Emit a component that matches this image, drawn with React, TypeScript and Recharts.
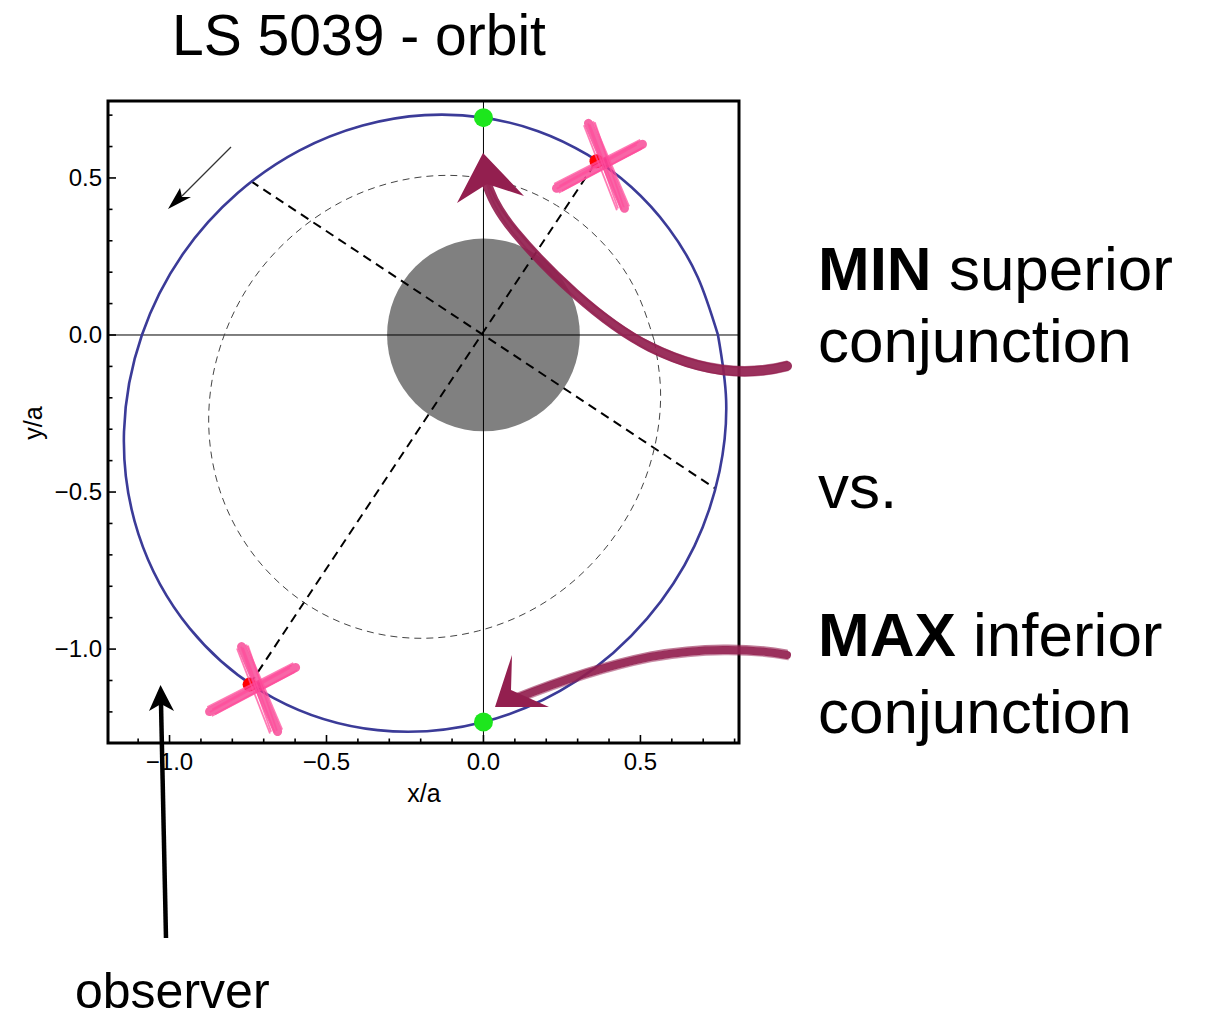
import { ComposedChart, Line, Scatter, XAxis, YAxis, ReferenceLine, ReferenceArea } from 'recharts'

const CHART_W = 1212
const CHART_H = 1019
const PLOT = { left: 108, top: 101, right: 739, bottom: 743 }
const AXIS_BOTTOM_H = 40
const AXIS_LEFT_W = 60
const AXIS_TOP_H = 10
const AXIS_RIGHT_W = 10
const X_DOMAIN: [number, number] = [-1.196, 0.814]
const Y_DOMAIN: [number, number] = [-1.299, 0.745]
const PX_PER_UNIT = (PLOT.right - PLOT.left) / (X_DOMAIN[1] - X_DOMAIN[0])
const FONT = '"Liberation Sans", Arial, Helvetica, sans-serif'

// orbit of the compact object (x/a, y/a)
const orbit: [number, number][] = [
  [0.747, 0], [0.683, 0.183], [0.59, 0.34], [0.471, 0.471], [0.331, 0.574], [0.174, 0.649],
  [0, 0.692], [-0.187, 0.7], [-0.385, 0.667], [-0.587, 0.587], [-0.783, 0.452], [-0.958, 0.257],
  [-1.088, 0], [-1.145, -0.307], [-1.099, -0.634], [-0.935, -0.935], [-0.668, -1.156], [-0.337, -1.258],
  [0, -1.232], [0.295, -1.102], [0.521, -0.903], [0.672, -0.672], [0.752, -0.434], [0.773, -0.207],
  [0.747, 0],
]

// thin dashed inner curve
const innerOrbit: [number, number][] = [
  [0.544, -0.018], [0.496, 0.119], [0.427, 0.237], [0.337, 0.335], [0.232, 0.413], [0.115, 0.469],
  [-0.016, 0.501], [-0.156, 0.507], [-0.305, 0.482], [-0.456, 0.422], [-0.603, 0.321], [-0.735, 0.175],
  [-0.832, -0.018], [-0.875, -0.248], [-0.84, -0.494], [-0.717, -0.719], [-0.517, -0.885], [-0.269, -0.962],
  [-0.016, -0.942], [0.205, -0.845], [0.375, -0.695], [0.488, -0.522], [0.548, -0.344], [0.564, -0.173],
  [0.544, -0.018],
]

const conjunctions = [{ x: 0, y: 0.692 }, { x: 0, y: -1.232 }]
const apsides = [{ x: 0.36, y: 0.553 }, { x: -0.745, y: -1.113 }]
const star = [{ x: 0, y: 0, radius: 0.307 }]
const apsisLine = [{ x: -0.745, y: -1.113 }, { x: 0.36, y: 0.553 }]
const latusLine = [{ x: -0.741, y: 0.49 }, { x: 0.739, y: -0.489 }]

const xTicks = [-1.1, -1.0, -0.9, -0.8, -0.7, -0.6, -0.5, -0.4, -0.3, -0.2, -0.1, 0, 0.1, 0.2, 0.3, 0.4, 0.5, 0.6, 0.7, 0.8]
const yTicks = [-1.2, -1.1, -1.0, -0.9, -0.8, -0.7, -0.6, -0.5, -0.4, -0.3, -0.2, -0.1, 0, 0.1, 0.2, 0.3, 0.4, 0.5, 0.6, 0.7]

const orbitData = orbit.map(([x, y]) => ({ x, y }))
const innerData = innerOrbit.map(([x, y]) => ({ x, y }))

const isMajor = (v: number) => Math.abs(v * 2 - Math.round(v * 2)) < 1e-6
const fmt = (v: number) => (v < -1e-9 ? '\u2212' : '') + Math.abs(v).toFixed(1)

function tickLen(v: number) {
  return isMajor(v) ? 8 : 4.5
}

function BottomTick({ x, y, payload }: any) {
  const v = payload.value
  return (
    <g>
      <line x1={x} x2={x} y1={y} y2={y - tickLen(v)} stroke="#000" strokeWidth={1.6} />
      {isMajor(v) && (
        <text x={x} y={y + 27} textAnchor="middle" fontSize={24} fontFamily={FONT} fill="#000">
          {fmt(v)}
        </text>
      )}
    </g>
  )
}

function TopTick({ x, y, payload }: any) {
  return <line x1={x} x2={x} y1={y} y2={y + tickLen(payload.value)} stroke="#000" strokeWidth={1.6} />
}

function LeftTick({ x, y, payload }: any) {
  const v = payload.value
  return (
    <g>
      <line x1={x} x2={x + tickLen(v)} y1={y} y2={y} stroke="#000" strokeWidth={1.6} />
      {isMajor(v) && (
        <text x={x - 6} y={y + 8} textAnchor="end" fontSize={24} fontFamily={FONT} fill="#000">
          {fmt(v)}
        </text>
      )}
    </g>
  )
}

function RightTick({ x, y, payload }: any) {
  return <line x1={x} x2={x - tickLen(payload.value)} y1={y} y2={y} stroke="#000" strokeWidth={1.6} />
}

function StarDisk({ cx, cy, payload }: any) {
  return <circle cx={cx} cy={cy} r={payload.radius * PX_PER_UNIT} fill="#808080" />
}

function GreenDot({ cx, cy }: any) {
  return <circle cx={cx} cy={cy} r={9.5} fill="#1de61d" />
}

// hand drawn pink cross over each apsis
const CROSS = [
  [-40, 27, 46, -17],
  [-8, -38, 28, 47],
]
const JITTER = [-5, -2.5, 0.5, 3, 5]

function ApsisMark({ cx, cy }: any) {
  return (
    <g>
      <circle cx={cx} cy={cy} r={7} fill="#ff0000" />
      {CROSS.map(([x1, y1, x2, y2], i) => {
        const len = Math.hypot(x2 - x1, y2 - y1)
        const nx = -(y2 - y1) / len
        const ny = (x2 - x1) / len
        return (
          <g key={i}>
            <line x1={cx + x1} y1={cy + y1} x2={cx + x2} y2={cy + y2} stroke="#f5338a" strokeWidth={9} strokeOpacity={0.75} strokeLinecap="round" />
            {JITTER.map((j, k) => (
              <line
                key={k}
                x1={cx + x1 + nx * j + (k % 2) * 4}
                y1={cy + y1 + ny * j}
                x2={cx + x2 + nx * j - (k % 3) * 3}
                y2={cy + y2 + ny * j}
                stroke="#ff4f9c"
                strokeWidth={1.8}
                strokeOpacity={0.75}
              />
            ))}
          </g>
        )
      })}
    </g>
  )
}

function BrushPath({ d, color, width }: { d: string; color: string; width: number }) {
  return (
    <g fill="none" stroke={color} strokeLinecap="round">
      <path d={d} strokeWidth={width} strokeOpacity={0.92} />
      <path d={d} strokeWidth={2} strokeOpacity={0.6} transform="translate(0,-4.5)" />
      <path d={d} strokeWidth={1.5} strokeOpacity={0.5} transform="translate(1,4.5)" />
    </g>
  )
}

function Annotations() {
  const maroon = '#931f4f'
  return (
    <svg width={CHART_W} height={CHART_H} style={{ position: 'absolute', left: 0, top: 0, pointerEvents: 'none' }}>
      <text x={172} y={55} fontSize={57} fontFamily={FONT} fill="#000">LS 5039 - orbit</text>

      <g fontFamily={FONT} fontSize={62} fill="#000">
        <text x={818} y={290}><tspan fontWeight={700}>MIN</tspan> superior</text>
        <text x={818} y={362}>conjunction</text>
        <text x={818} y={508}>vs.</text>
        <text x={818} y={656}><tspan fontWeight={700}>MAX</tspan> inferior</text>
        <text x={818} y={733}>conjunction</text>
      </g>

      <text x={75} y={1008} fontSize={50} fontFamily={FONT} fill="#000">observer</text>
      <text x={424} y={802} fontSize={25} fontFamily={FONT} fill="#000" textAnchor="middle">x/a</text>
      <text x={42} y={423} fontSize={25} fontFamily={FONT} fill="#000" textAnchor="middle" transform="rotate(-90 42 423)">y/a</text>

      {/* observer arrow */}
      <line x1={166} y1={938} x2={161} y2={703} stroke="#000" strokeWidth={4.5} />
      <polygon points="160.5,685 149,711 161,704 174,711" fill="#000" />

      {/* direction of motion */}
      <line x1={231} y1={147} x2={182} y2={196} stroke="#333" strokeWidth={1.2} />
      <polygon points="168,209 180,188 182,197 191,197" fill="#000" />

      {/* hand drawn arrows */}
      <BrushPath d="M787,366 C745,377 700,372 650,347 C600,322 545,268 515,232 C500,214 490,196 486,180" color={maroon} width={10} />
      <polygon points="483,153 457,203 487,184 524,196" fill={maroon} />
      <BrushPath d="M787,655 C750,648 700,648 650,657 C600,667 555,683 515,699" color={maroon} width={8} />
      <polygon points="495,707 512,655 511,690 549,707" fill={maroon} />
    </svg>
  )
}

export default function App() {
  return (
    <div style={{ position: 'absolute', left: 0, top: 0, width: CHART_W, height: CHART_H, background: '#fff' }}>
      <ComposedChart
        width={CHART_W}
        height={CHART_H}
        margin={{
          top: PLOT.top - AXIS_TOP_H,
          left: PLOT.left - AXIS_LEFT_W,
          right: CHART_W - PLOT.right - AXIS_RIGHT_W,
          bottom: CHART_H - PLOT.bottom - AXIS_BOTTOM_H,
        }}
      >
        <XAxis xAxisId={0} dataKey="x" type="number" domain={X_DOMAIN} ticks={xTicks} interval={0} height={AXIS_BOTTOM_H}
          tickSize={0} tickMargin={0} tickLine={false} axisLine={false} tick={<BottomTick />} />
        <XAxis xAxisId="top" orientation="top" dataKey="x" type="number" domain={X_DOMAIN} ticks={xTicks} interval={0} height={AXIS_TOP_H}
          tickSize={0} tickMargin={0} tickLine={false} axisLine={false} tick={<TopTick />} />
        <YAxis yAxisId={0} dataKey="y" type="number" domain={Y_DOMAIN} ticks={yTicks} interval={0} width={AXIS_LEFT_W}
          tickSize={0} tickMargin={0} tickLine={false} axisLine={false} tick={<LeftTick />} />
        <YAxis yAxisId="right" orientation="right" dataKey="y" type="number" domain={Y_DOMAIN} ticks={yTicks} interval={0} width={AXIS_RIGHT_W}
          tickSize={0} tickMargin={0} tickLine={false} axisLine={false} tick={<RightTick />} />

        <Scatter data={star} fill="#808080" shape={<StarDisk />} isAnimationActive={false} zIndex={50} />
        <ReferenceLine x={0} stroke="#000" strokeWidth={1} zIndex={60} />
        <ReferenceLine y={0} stroke="#000" strokeWidth={1} zIndex={60} />
        <ReferenceLine segment={apsisLine} stroke="#000" strokeWidth={2} strokeDasharray="9 6" zIndex={60} />
        <ReferenceLine segment={latusLine} stroke="#000" strokeWidth={2} strokeDasharray="9 6" zIndex={60} />

        <Line data={innerData} dataKey="y" type="natural" stroke="#444" strokeWidth={1} strokeDasharray="7 5"
          dot={false} activeDot={false} isAnimationActive={false} />
        <Line data={orbitData} dataKey="y" type="natural" stroke="#3b3b98" strokeWidth={2.6}
          dot={false} activeDot={false} isAnimationActive={false} />

        <Scatter data={conjunctions} fill="#1de61d" shape={<GreenDot />} isAnimationActive={false} />
        <Scatter data={apsides} fill="#ff0000" shape={<ApsisMark />} isAnimationActive={false} />

        <ReferenceArea x1={X_DOMAIN[0]} x2={X_DOMAIN[1]} y1={Y_DOMAIN[0]} y2={Y_DOMAIN[1]}
          fill="none" fillOpacity={0} stroke="#000" strokeWidth={3} />
      </ComposedChart>
      <Annotations />
    </div>
  )
}
